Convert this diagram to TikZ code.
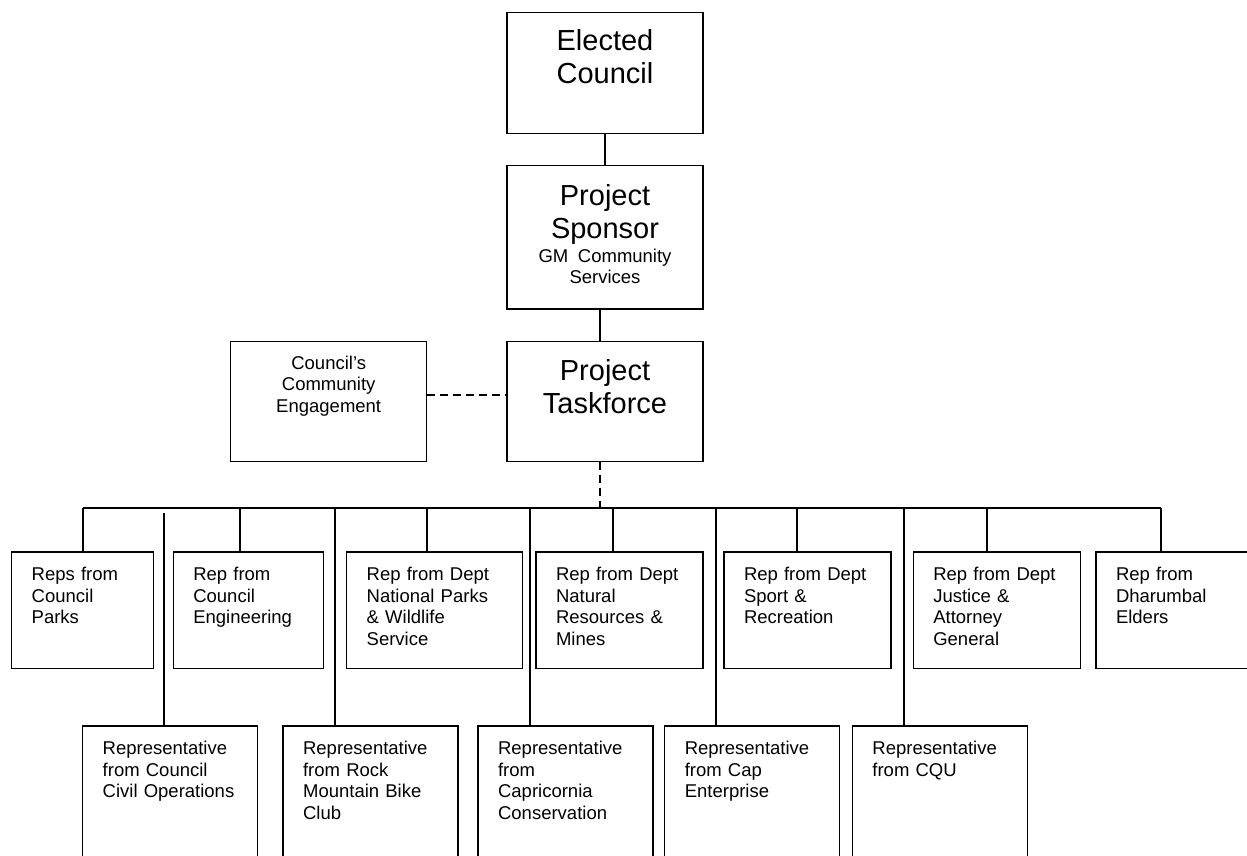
\documentclass[tikz,border=0pt]{standalone}
\usepackage{fontspec}
\setmainfont{Liberation Sans}
\usepackage{tikz}
\usetikzlibrary{positioning}
\newcommand{\repfont}{\fontsize{18.5}{21.5}\selectfont}
\newcommand{\headfont}{\fontsize{29}{33}\selectfont}
\tikzset{
    x=1pt, y=-1pt, % one unit per pixel of the page, y runs downwards
    box/.style={draw, line width=1.3pt, inner ysep=0pt, outer sep=0pt}, % plain framed box
    rep/.style={box, font=\repfont, align=left, inner xsep=20pt, text height=28.7pt}, % text sits in the top left corner
    toprep/.style={rep, text depth=87.6pt}, % first row of reps
    lowrep/.style={rep, text width=135pt, text depth=121.3pt}, % second row, runs off the page
    head/.style={box, font=\headfont, align=center, text width=176pt, inner xsep=10pt}, % boxes in the middle column
    link/.style={line width=1.8pt}, % solid reporting line
    loose/.style={line width=1.5pt, dash pattern=on 8pt off 5pt}, % dashed liaison line
}

\begin{document}
\begin{tikzpicture}
        \useasboundingbox (0,0) rectangle (1247,856);

        % Middle column
        % \node[<options>] (name) {text label};
        \node[head, text height=37.8pt, text depth=83.2pt, anchor=north west] (elected) at (507,12.3) {Elected\\Council};
        \node[head, text height=40.1pt, text depth=103.2pt, below=32.4pt of elected] (sponsor) {Project\\Sponsor\\[1.9pt]{\repfont GM Community\\Services\par}};
        \node[head, text height=39.1pt, text depth=80.9pt, below=32.7pt of sponsor] (task) {Project\\Taskforce};
        \node[head, font=\repfont, text height=27.5pt, text depth=92.5pt, left=80.3pt of task] (engage) {Council’s\\Community\\Engagement};

        % First row of representatives
        \node[toprep, text width=102pt, anchor=north west] (parks) at (11.7,552) {Reps from\\Council\\Parks};
        \node[toprep, text width=110pt, right=19.6pt of parks] (eng) {Rep from\\Council\\Engineering};
        \node[toprep, text width=136pt, right=23.4pt of eng] (natparks) {Rep from Dept\\National Parks\\\& Wildlife\\Service};
        \node[toprep, text width=127pt, right=13.3pt of natparks] (natres) {Rep from Dept\\Natural\\Resources \&\\Mines};
        \node[toprep, text width=127pt, right=21pt of natres] (sport) {Rep from Dept\\Sport \&\\Recreation};
        \node[toprep, text width=127pt, right=22.3pt of sport] (justice) {Rep from Dept\\Justice \&\\Attorney\\General};
        \node[toprep, text width=130pt, right=15.7pt of justice] (elders) {Rep from\\Dharumbal\\Elders};

        % Second row of representatives
        \node[lowrep, anchor=north west] (civil) at (82.7,726) {Representative\\from Council\\Civil Operations};
        \node[lowrep, right=25.4pt of civil] (bike) {Representative\\from Rock\\Mountain Bike\\Club};
        \node[lowrep, right=20pt of bike] (capcons) {Representative\\from\\Capricornia\\Conservation};
        \node[lowrep, right=11.7pt of capcons] (capent) {Representative\\from Cap\\Enterprise};
        \node[lowrep, right=12.6pt of capent] (cqu) {Representative\\from CQU};

        % draw Edges
        \coordinate (bus) at ([yshift=-46.6pt]task.south);
        \draw[link] (elected) -- (sponsor)
                    ([xshift=-5pt]sponsor.south) -- ([xshift=-5pt]task.north);
        \draw[loose] ([yshift=6.7pt]engage.east) -- ([yshift=6.7pt]task.west)
                     ([xshift=-5pt]task.south) -- ([xshift=-5pt]task.south |- bus);
        \draw[link] (parks.north |- bus) -- ([xshift=65.3pt]elders.north west |- bus);

        % drops to the first row
        \draw[link] (parks.north) -- (parks.north |- bus)
                    ([xshift=-8.3pt]eng.north) -- ([xshift=-8.3pt]eng.north |- bus)
                    ([xshift=-8pt]natparks.north) -- ([xshift=-8pt]natparks.north |- bus)
                    ([xshift=-6.2pt]natres.north) -- ([xshift=-6.2pt]natres.north |- bus)
                    ([xshift=-10.2pt]sport.north) -- ([xshift=-10.2pt]sport.north |- bus)
                    ([xshift=-9.8pt]justice.north) -- ([xshift=-9.8pt]justice.north |- bus)
                    ([xshift=65.3pt]elders.north west) -- ([xshift=65.3pt]elders.north west |- bus);

        % drops to the second row
        \draw[link] ([xshift=81pt]civil.north west) -- ([xshift=81pt, yshift=-4.4pt]civil.north west |- bus)
                    ([xshift=51.5pt]bike.north west) -- ([xshift=51.5pt]bike.north west |- bus)
                    ([xshift=51.5pt]capcons.north west) -- ([xshift=51.5pt]capcons.north west |- bus)
                    ([xshift=51.5pt]capent.north west) -- ([xshift=51.5pt]capent.north west |- bus)
                    ([xshift=51.5pt]cqu.north west) -- ([xshift=51.5pt]cqu.north west |- bus);
\end{tikzpicture}
\end{document}
